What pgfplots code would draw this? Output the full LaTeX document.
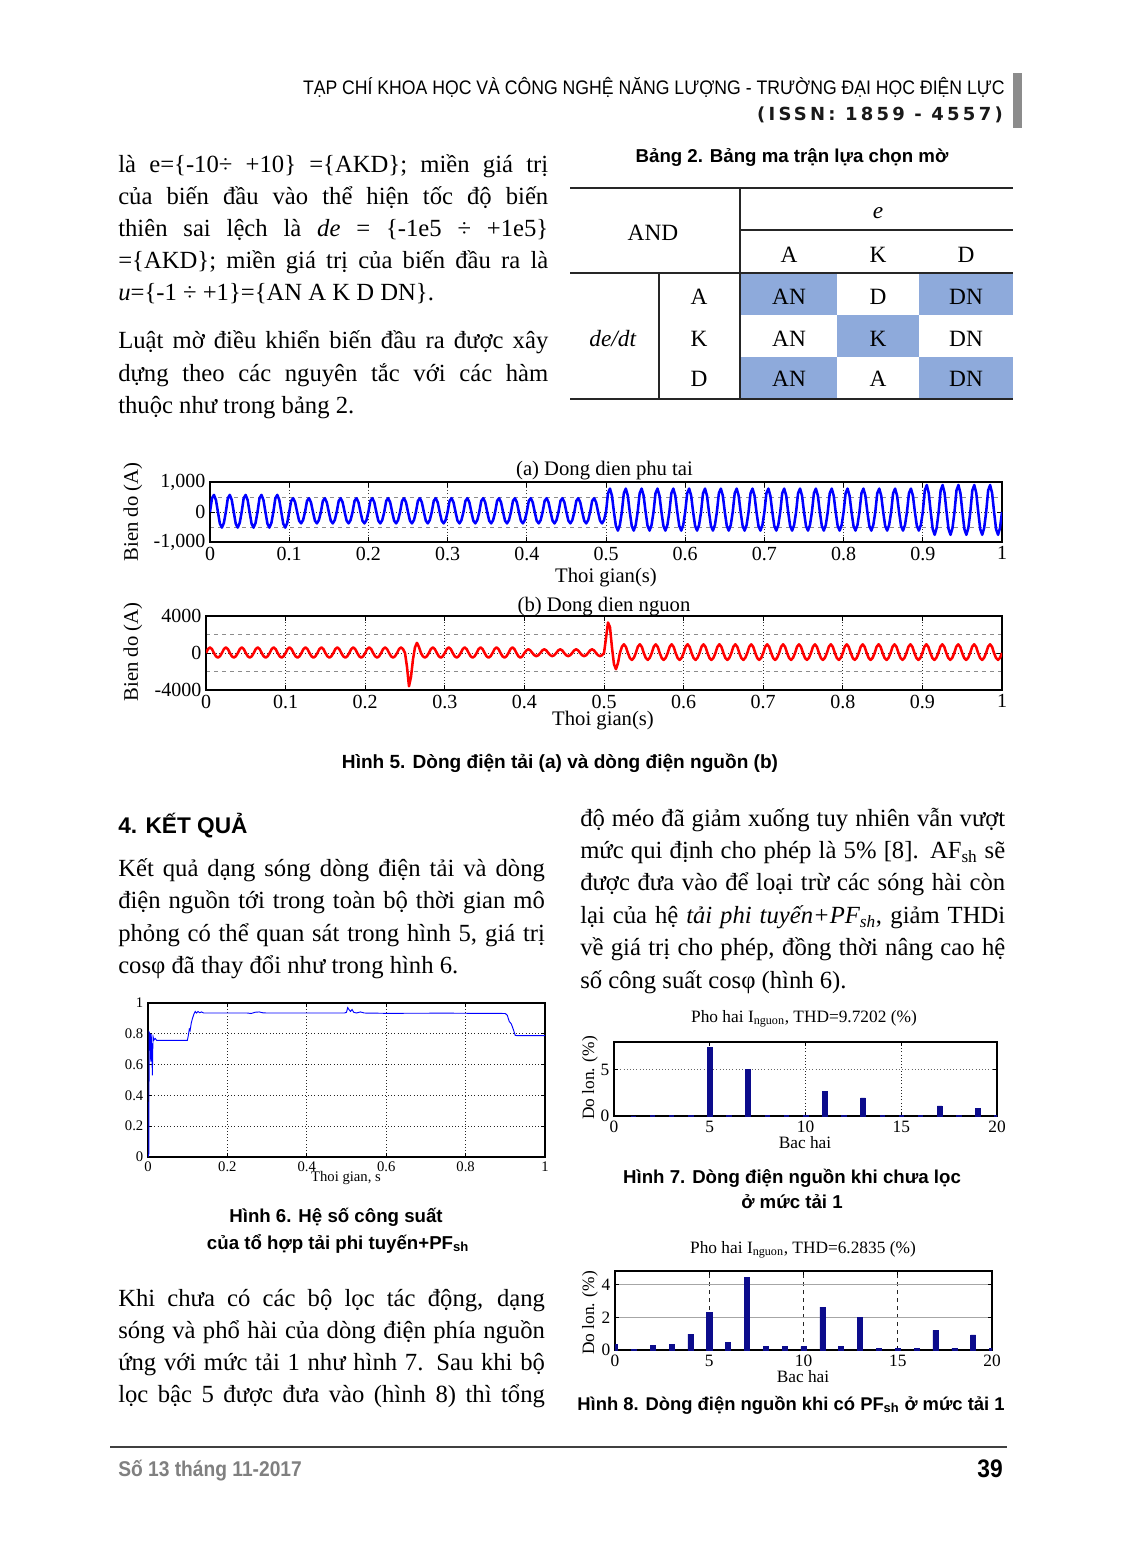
\documentclass[border=0pt]{standalone}
\usepackage{fontspec}
\setmainfont{Liberation Serif}
\setsansfont{Liberation Sans}
\newfontfamily\hdrfont[FakeStretch=0.9]{Liberation Sans}
\newfontfamily\issnfont[LetterSpace=18]{DejaVu Sans}
\newfontfamily\capfont{Liberation Sans}
\usepackage{pgfplots}
\pgfplotsset{compat=1.18}
\newcommand\fs[2]{\fontsize{#1}{#2}\selectfont}
\definecolor{cellblue}{RGB}{142,170,219}
\definecolor{navybar}{RGB}{12,12,140}
\pgfplotsset{every axis/.append style={/pgf/number format/assume math mode=true}}
\begin{document}
\begin{tikzpicture}
\begin{scope}[x=0.75pt,y=-0.75pt]
\path[use as bounding box] (0,0) rectangle (1122,1565);
\fill[white] (0,0) rectangle (1122,1565);
\coordinate (P5a) at (210,482);
\coordinate (P5b) at (206,616);
\coordinate (P6) at (148,1003);
\coordinate (P7) at (614,1042);
\coordinate (P8) at (615,1271);
% header
\node[anchor=base east, inner sep=0pt, text=black] at (1005,95) {\hdrfont\fs{14.7}{15}TẠP CHÍ KHOA HỌC VÀ CÔNG NGHỆ NĂNG LƯỢNG - TRƯỜNG ĐẠI HỌC ĐIỆN LỰC};
\node[anchor=base east, inner sep=0pt, text=black!90] at (1003,121) {\issnfont\bfseries\fs{13.5}{14}(ISSN: 1859 - 4557)};
\fill[black!45] (1013,73) rectangle (1022,128);
% upper left text
\node[anchor=base west, inner sep=0pt] at (118,173) {\parbox[t]{322.5pt}{\tolerance=9999\hbadness=10000\fs{18.5}{23.85}là e=\{-10÷ +10\} =\{AKD\}; miền giá trị\linebreak
của biến đầu vào thể hiện tốc độ biến\linebreak
thiên sai lệch là \textit{de} = \{-1e5 ÷ +1e5\}\linebreak
=\{AKD\}; miền giá trị của biến đầu ra là\linebreak
\textit{u}=\{-1 ÷ +1\}=\{AN A K D DN\}.}};
\node[anchor=base west, inner sep=0pt] at (118,349) {\parbox[t]{322.5pt}{\tolerance=9999\hbadness=10000\fs{18.5}{24.2}Luật mờ điều khiển biến đầu ra được xây\linebreak
dựng theo các nguyên tắc với các hàm\linebreak
thuộc như trong bảng 2.}};
% table
\node[anchor=base, inner sep=0pt] at (792,163) {\capfont\bfseries\fs{14}{14}Bảng 2. Bảng ma trận lựa chọn mờ};
\fill[cellblue] (741,273) rectangle (837,315);
\fill[cellblue] (919,273) rectangle (1013,315);
\fill[cellblue] (837,315) rectangle (919,357);
\fill[cellblue] (741,357) rectangle (837,399);
\fill[cellblue] (919,357) rectangle (1013,399);
\draw[line width=1.4pt, black!85] (570,188) -- (1013,188);
\draw[line width=1pt, black!85] (740,230) -- (1013,230);
\draw[line width=1.2pt, black!85] (570,273) -- (1013,273);
\draw[line width=1.4pt, black!85] (570,399) -- (1013,399);
\draw[line width=1.1pt, black!85] (740,188) -- (740,399);
\draw[line width=1.1pt, black!85] (659,273) -- (659,399);
\begin{scope}[every node/.style={font=\fs{17.5}{18}, inner sep=0pt}]
\node at (653,233) {AND};
\node at (878,213) {\textit{e}};
\node at (789,255) {A};
\node at (878,255) {K};
\node at (966,255) {D};
\node at (613,339) {\textit{de/dt}};
\node at (699,297) {A};
\node at (699,339) {K};
\node at (699,379) {D};
\node at (789,297) {AN};
\node at (878,297) {D};
\node at (966,297) {DN};
\node at (789,339) {AN};
\node at (878,339) {K};
\node at (966,339) {DN};
\node at (789,379) {AN};
\node at (878,379) {A};
\node at (966,379) {DN};
\end{scope}
% fig 5 labels
\node[anchor=base, inner sep=0pt] at (604.5,475) {\fs{15.5}{16}(a) Dong dien phu tai};
\node[inner sep=0pt] at (606,578) {\fs{15.5}{16}Thoi gian(s)};
\node[rotate=90, inner sep=0pt] at (133,512) {\fs{15.5}{16}Bien do (A)};
\node[anchor=base, inner sep=0pt] at (604,611) {\fs{15.5}{16}(b) Dong dien nguon};
\node[inner sep=0pt] at (603,721) {\fs{15.5}{16}Thoi gian(s)};
\node[rotate=90, inner sep=0pt] at (133,652) {\fs{15.5}{16}Bien do (A)};
\node[anchor=base, inner sep=0pt] at (560,768) {\capfont\bfseries\fs{14.3}{14}Hình 5. Dòng điện tải (a) và dòng điện nguồn (b)};
% section 4
\node[anchor=base west, inner sep=0pt] at (118,833) {\capfont\bfseries\fs{17}{17}4. KẾT QUẢ};
\node[anchor=base west, inner sep=0pt] at (118,876) {\parbox[t]{320pt}{\tolerance=9999\hbadness=10000\fs{18.5}{24.4}Kết quả dạng sóng dòng điện tải và dòng\linebreak
điện nguồn tới trong toàn bộ thời gian mô\linebreak
phỏng có thể quan sát trong hình 5, giá trị\linebreak
cosφ đã thay đổi như trong hình 6.}};
\node[anchor=base west, inner sep=0pt] at (580,826) {\parbox[t]{318.75pt}{\tolerance=9999\hbadness=10000\fs{18.5}{24.3}độ méo đã giảm xuống tuy nhiên vẫn vượt\linebreak
mức qui định cho phép là 5\% [8]. AF\textsubscript{sh} sẽ\linebreak
được đưa vào để loại trừ các sóng hài còn\linebreak
lại của hệ \textit{tải phi tuyến+PF\textsubscript{sh}}, giảm THDi\linebreak
về giá trị cho phép, đồng thời nâng cao hệ\linebreak
số công suất cosφ (hình 6).}};
\node[anchor=base west, inner sep=0pt] at (118,1306) {\parbox[t]{320pt}{\parfillskip=0pt\tolerance=9999\hbadness=10000\fs{18.5}{24}Khi chưa có các bộ lọc tác động, dạng\linebreak
sóng và phổ hài của dòng điện phía nguồn\linebreak
ứng với mức tải 1 như hình 7. Sau khi bộ\linebreak
lọc bậc 5 được đưa vào (hình 8) thì tổng}};
% fig 6 text
\node[inner sep=0pt] at (346,1178) {\fs{11}{11}Thoi gian, s};
\node[anchor=base, inner sep=0pt] at (336,1222) {\capfont\bfseries\fs{14}{14}Hình 6. Hệ số công suất};
\node[anchor=base, inner sep=0pt] at (338,1249) {\capfont\bfseries\fs{14}{14}của tổ hợp tải phi tuyến+PF\textsubscript{sh}};
% fig 7 text
\node[anchor=base, inner sep=0pt] at (804,1022) {\fs{13}{13}Pho hai I\textsubscript{nguon}, THD=9.7202 (\%)};
\node[inner sep=0pt] at (805,1143) {\fs{13}{13}Bac hai};
\node[rotate=90, inner sep=0pt] at (590,1078) {\fs{13}{13}Do lon. (\%)};
\node[anchor=base, inner sep=0pt] at (792,1183) {\capfont\bfseries\fs{14}{14}Hình 7. Dòng điện nguồn khi chưa lọc};
\node[anchor=base, inner sep=0pt] at (792,1208) {\capfont\bfseries\fs{14}{14}ở mức tải 1};
% fig 8 text
\node[anchor=base, inner sep=0pt] at (803,1253) {\fs{13}{13}Pho hai I\textsubscript{nguon}, THD=6.2835 (\%)};
\node[inner sep=0pt] at (803,1377) {\fs{13}{13}Bac hai};
\node[rotate=90, inner sep=0pt] at (590,1313) {\fs{13}{13}Do lon. (\%)};
\node[anchor=base, inner sep=0pt] at (791,1410) {\capfont\bfseries\fs{13.8}{14}Hình 8. Dòng điện nguồn khi có PF\textsubscript{sh} ở mức tải 1};
% footer
\draw[line width=2.2pt, black!75] (110,1447) -- (1007,1447);
\node[anchor=base west, inner sep=0pt, text=black!50] at (118,1476) {\hdrfont\bfseries\fs{16}{16}Số 13 tháng 11-2017};
\node[anchor=base east, inner sep=0pt] at (1003,1477) {\hdrfont\bfseries\fs{19}{19}39};
\end{scope}

% ===== Fig 5a =====
\begin{axis}[at={(P5a)}, anchor=north west, scale only axis, width=594pt, height=45pt,
 xmin=0, xmax=1, ymin=-1000, ymax=1000,
 xtick={0,0.1,0.2,0.3,0.4,0.5,0.6,0.7,0.8,0.9,1},
 xticklabels={0,0.1,0.2,0.3,0.4,0.5,0.6,0.7,0.8,0.9,1},
 ytick={-1000,0,1000}, yticklabels={{-1,000},0,{1,000}},
 minor ytick={-500,500},
 xmajorgrids, ymajorgrids, yminorgrids,
 major grid style={dotted, black!80, line width=0.5pt},
 minor grid style={dashed, black!45, line width=0.5pt},
 ticklabel style={font=\fs{15}{15}},
 axis line style={line width=1pt},
 tick style={black, line width=0.7pt}, major tick length=4pt, minor tick length=0pt]
\addplot[blue, line width=1.9pt, line join=round] table[header=false, row sep=\\, x expr=\coordindex*0.0025, y index=0] {
0\\460\\570\\400\\0\\-390\\-520\\-365\\
0\\460\\570\\400\\0\\-390\\-520\\-365\\
0\\460\\570\\400\\0\\-390\\-520\\-365\\
0\\460\\570\\400\\0\\-390\\-520\\-365\\
0\\460\\570\\400\\0\\-390\\-520\\-365\\
0\\370\\460\\320\\0\\-290\\-380\\-270\\
0\\370\\460\\320\\0\\-290\\-380\\-270\\
0\\370\\460\\320\\0\\-290\\-380\\-270\\
0\\370\\460\\320\\0\\-290\\-380\\-270\\
0\\370\\460\\320\\0\\-290\\-380\\-270\\
0\\370\\460\\320\\0\\-290\\-380\\-270\\
0\\370\\460\\320\\0\\-290\\-380\\-270\\
0\\370\\460\\320\\0\\-290\\-380\\-270\\
0\\370\\460\\320\\0\\-290\\-380\\-270\\
0\\370\\460\\320\\0\\-290\\-380\\-270\\
0\\370\\460\\320\\0\\-290\\-380\\-270\\
0\\370\\460\\320\\0\\-290\\-380\\-270\\
0\\370\\460\\320\\0\\-290\\-380\\-270\\
0\\370\\460\\320\\0\\-290\\-380\\-270\\
0\\370\\460\\320\\0\\-290\\-380\\-270\\
0\\370\\460\\320\\0\\-290\\-380\\-270\\
0\\370\\460\\320\\0\\-290\\-380\\-270\\
0\\370\\460\\320\\0\\-290\\-380\\-270\\
0\\370\\460\\320\\0\\-290\\-380\\-270\\
0\\370\\460\\320\\0\\-290\\-380\\-270\\
0\\625\\780\\545\\0\\-465\\-620\\-435\\
0\\625\\780\\545\\0\\-465\\-620\\-435\\
0\\625\\780\\545\\0\\-465\\-620\\-435\\
0\\625\\780\\545\\0\\-465\\-620\\-435\\
0\\625\\780\\545\\0\\-465\\-620\\-435\\
0\\625\\780\\545\\0\\-465\\-620\\-435\\
0\\625\\780\\545\\0\\-465\\-620\\-435\\
0\\625\\780\\545\\0\\-465\\-620\\-435\\
0\\625\\780\\545\\0\\-465\\-620\\-435\\
0\\625\\780\\545\\0\\-465\\-620\\-435\\
0\\625\\780\\545\\0\\-465\\-620\\-435\\
0\\625\\780\\545\\0\\-465\\-620\\-435\\
0\\625\\780\\545\\0\\-465\\-620\\-435\\
0\\625\\780\\545\\0\\-465\\-620\\-435\\
0\\625\\780\\545\\0\\-465\\-620\\-435\\
0\\625\\780\\545\\0\\-465\\-620\\-435\\
0\\625\\780\\545\\0\\-465\\-620\\-435\\
0\\625\\780\\545\\0\\-465\\-620\\-435\\
0\\625\\780\\545\\0\\-465\\-620\\-435\\
0\\625\\780\\545\\0\\-465\\-620\\-435\\
0\\720\\900\\630\\0\\-570\\-760\\-530\\
0\\720\\900\\630\\0\\-570\\-760\\-530\\
0\\720\\900\\630\\0\\-570\\-760\\-530\\
0\\720\\900\\630\\0\\-570\\-760\\-530\\
0\\720\\900\\630\\0\\-570\\-760\\-530\\
0\\
};
\end{axis}

% ===== Fig 5b =====
\begin{axis}[at={(P5b)}, anchor=north west, scale only axis, width=597pt, height=55.5pt,
 xmin=0, xmax=1, ymin=-4000, ymax=4000,
 xtick={0,0.1,0.2,0.3,0.4,0.5,0.6,0.7,0.8,0.9,1},
 xticklabels={0,0.1,0.2,0.3,0.4,0.5,0.6,0.7,0.8,0.9,1},
 ytick={-4000,0,4000}, yticklabels={-4000,0,4000},
 minor ytick={-2000,2000},
 xmajorgrids, ymajorgrids, yminorgrids,
 major grid style={dotted, black!80, line width=0.5pt},
 minor grid style={dashed, black!45, line width=0.5pt},
 ticklabel style={font=\fs{15}{15}},
 axis line style={line width=1pt},
 tick style={black, line width=0.7pt}, major tick length=4pt, minor tick length=0pt]
\addplot[red, line width=1.9pt, line join=round] table[header=false, row sep=\\, x expr=\coordindex*0.0025, y index=0] {
0\\430\\600\\420\\0\\-360\\-500\\-350\\
0\\430\\600\\420\\0\\-360\\-500\\-350\\
0\\430\\600\\420\\0\\-360\\-500\\-350\\
0\\430\\600\\420\\0\\-360\\-500\\-350\\
0\\430\\600\\420\\0\\-360\\-500\\-350\\
0\\430\\600\\420\\0\\-360\\-500\\-350\\
0\\430\\600\\420\\0\\-360\\-500\\-350\\
0\\430\\600\\420\\0\\-360\\-500\\-350\\
0\\430\\600\\420\\0\\-360\\-500\\-350\\
0\\430\\600\\420\\0\\-360\\-500\\-350\\
0\\430\\600\\420\\0\\-360\\-500\\-350\\
0\\430\\600\\420\\0\\-360\\-500\\-350\\
0\\430\\600\\420\\0\\-1500\\-3600\\-2600\\
-700\\600\\1100\\650\\0\\-360\\-500\\-350\\
0\\430\\600\\420\\0\\-360\\-500\\-350\\
0\\430\\600\\420\\0\\-360\\-500\\-350\\
0\\430\\600\\420\\0\\-360\\-500\\-350\\
0\\430\\600\\420\\0\\-360\\-500\\-350\\
0\\430\\600\\420\\0\\-360\\-500\\-350\\
0\\430\\600\\420\\0\\-360\\-500\\-350\\
0\\280\\400\\280\\0\\-240\\-340\\-240\\
0\\280\\400\\280\\0\\-240\\-340\\-240\\
0\\280\\400\\280\\0\\-240\\-340\\-240\\
0\\280\\400\\280\\0\\-240\\-340\\-240\\
0\\280\\400\\280\\0\\-240\\-340\\-240\\
0\\1600\\3300\\2800\\600\\-1200\\-1750\\-1100\\
0\\680\\940\\660\\0\\-540\\-750\\-520\\
0\\680\\940\\660\\0\\-540\\-750\\-520\\
0\\680\\940\\660\\0\\-540\\-750\\-520\\
0\\680\\940\\660\\0\\-540\\-750\\-520\\
0\\680\\940\\660\\0\\-540\\-750\\-520\\
0\\680\\940\\660\\0\\-540\\-750\\-520\\
0\\680\\940\\660\\0\\-540\\-750\\-520\\
0\\680\\940\\660\\0\\-540\\-750\\-520\\
0\\680\\940\\660\\0\\-540\\-750\\-520\\
0\\680\\940\\660\\0\\-540\\-750\\-520\\
0\\680\\940\\660\\0\\-540\\-750\\-520\\
0\\680\\940\\660\\0\\-540\\-750\\-520\\
0\\680\\940\\660\\0\\-540\\-750\\-520\\
0\\680\\940\\660\\0\\-540\\-750\\-520\\
0\\680\\940\\660\\0\\-540\\-750\\-520\\
0\\680\\940\\660\\0\\-540\\-750\\-520\\
0\\680\\940\\660\\0\\-540\\-750\\-520\\
0\\680\\940\\660\\0\\-540\\-750\\-520\\
0\\680\\940\\660\\0\\-540\\-750\\-520\\
0\\680\\940\\660\\0\\-540\\-750\\-520\\
0\\680\\940\\660\\0\\-540\\-750\\-520\\
0\\680\\940\\660\\0\\-540\\-750\\-520\\
0\\680\\940\\660\\0\\-540\\-750\\-520\\
0\\680\\940\\660\\0\\-540\\-750\\-520\\
0\\
};
\end{axis}

% ===== Fig 6 =====
\begin{axis}[at={(P6)}, anchor=north west, scale only axis, width=297.75pt, height=115.5pt,
 xmin=0, xmax=1, ymin=0, ymax=1,
 xtick={0,0.2,0.4,0.6,0.8,1}, xticklabels={0,0.2,0.4,0.6,0.8,1},
 ytick={0,0.2,0.4,0.6,0.8,1}, yticklabels={0,0.2,0.4,0.6,0.8,1},
 grid=major, major grid style={dotted, black!85, line width=0.6pt},
 ticklabel style={font=\fs{11}{11}},
 axis line style={line width=0.9pt},
 tick style={black, line width=0.6pt}, major tick length=3pt]
\addplot[blue, line width=0.7pt] coordinates {
(0,0) (0.002,0.02) (0.003,0.81) (0.005,0.80) (0.007,0.62) (0.008,0.80) (0.010,0.66)
(0.011,0.53) (0.012,0.70) (0.013,0.78) (0.015,0.76) (0.018,0.77) (0.022,0.757)
(0.03,0.757) (0.099,0.757) (0.101,0.78) (0.104,0.83) (0.106,0.82) (0.109,0.87)
(0.112,0.90) (0.116,0.93) (0.119,0.945) (0.122,0.935) (0.126,0.945) (0.13,0.937)
(0.135,0.942) (0.14,0.935) (0.25,0.935) (0.26,0.932) (0.27,0.94) (0.28,0.942)
(0.29,0.936) (0.30,0.935) (0.495,0.935) (0.50,0.94) (0.503,0.97) (0.507,0.955)
(0.51,0.945) (0.514,0.958) (0.518,0.94) (0.525,0.935) (0.535,0.942) (0.545,0.935)
(0.6,0.933) (0.75,0.934) (0.9,0.932) (0.905,0.92) (0.91,0.88) (0.915,0.865)
(0.92,0.83) (0.925,0.79) (0.93,0.788) (1,0.788)};
\end{axis}

% ===== Fig 7 =====
\begin{axis}[at={(P7)}, anchor=north west, scale only axis, width=287.25pt, height=55.5pt,
 xmin=0, xmax=20, ymin=0, ymax=8,
 xtick={0,5,10,15,20}, xticklabels={0,5,10,15,20},
 ytick={0,5}, yticklabels={0,5},
 grid=major, x grid style={dotted, black!85, line width=0.6pt},
 y grid style={dotted, black!60, line width=0.6pt},
 ticklabel style={font=\fs{13}{13}},
 axis line style={line width=0.9pt},
 tick style={black, line width=0.6pt}, major tick length=3pt]
\addplot[ybar, bar width=0.24, bar shift=0pt, fill=navybar, draw=navybar] coordinates {
(1,0.02) (2,0.07) (3,0.07) (4,0.07) (5,7.45) (6,0.07) (7,5.0) (8,0.06) (9,0.06) (10,0.03)
(11,2.7) (12,0.06) (13,1.97) (14,0.06) (15,0.03) (16,0.05) (17,1.1) (18,0.05) (19,0.86) (20,0.03)};
\end{axis}

% ===== Fig 8 =====
\begin{axis}[at={(P8)}, anchor=north west, scale only axis, width=282.75pt, height=59.25pt,
 xmin=0, xmax=20, ymin=0, ymax=4.83,
 xtick={0,5,10,15,20}, xticklabels={0,5,10,15,20},
 ytick={0,2,4}, yticklabels={0,2,4},
 grid=major, x grid style={dashed, black!85, line width=0.5pt},
 y grid style={solid, black!35, line width=0.6pt},
 ticklabel style={font=\fs{13}{13}},
 axis line style={line width=0.9pt},
 tick style={black, line width=0.6pt}, major tick length=3pt]
\addplot[ybar, bar width=0.27, bar shift=0pt, fill=navybar, draw=navybar] coordinates {
(0,0.35) (1,0.04) (2,0.3) (3,0.35) (4,0.97) (5,2.3) (6,0.45) (7,4.45) (8,0.2) (9,0.2)
(10,0.2) (11,2.62) (12,0.2) (13,2.0) (14,0.12) (15,0.1) (16,0.1) (17,1.2) (18,0.12)
(19,0.92) (20,0.1)};
\end{axis}
\end{tikzpicture}
\end{document}
